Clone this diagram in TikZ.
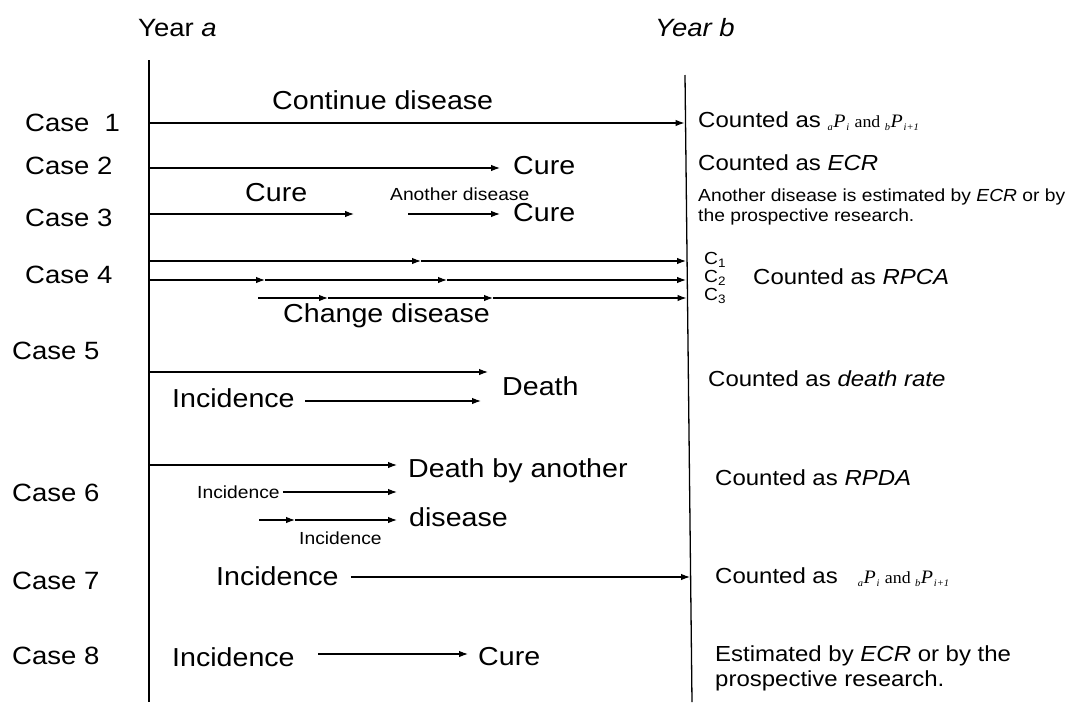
\documentclass[tikz,border=0pt]{standalone}
\usepackage{fontspec}
\setmainfont{Liberation Sans}[FakeStretch=1.1]
\newfontfamily\tms{Liberation Serif}[FakeStretch=1.05]
\usetikzlibrary{arrows.meta}
\newcommand\subP[2]{{\tms\raisebox{-3pt}{\fontsize{10}{11}\selectfont\itshape #1}\kern0.5pt{\fontsize{19}{20}\selectfont\itshape P}\kern0.8pt\raisebox{-3pt}{\fontsize{10}{11}\selectfont\itshape #2}}}
\newcommand\pformula{\subP{a}{i}\kern1pt{\tms\fontsize{17}{18}\selectfont\ and }\subP{b}{i+1}}
\begin{document}
\begin{tikzpicture}[x=1pt,y=-1pt,
  big/.style={font=\fontsize{26}{30}\selectfont, inner sep=0pt, anchor=west},
  casel/.style={font=\fontsize{25}{29}\selectfont, inner sep=0pt, anchor=west},
  rtext/.style={font=\fontsize{21.8}{25}\selectfont, inner sep=0pt, anchor=west},
  rsmall/.style={font=\fontsize{17.5}{20}\selectfont, inner sep=0pt, anchor=west, align=left},
  small/.style={font=\fontsize{17.5}{20}\selectfont, inner sep=0pt, anchor=west},
  arr/.style={-{Latex[length=9pt,width=6.5pt]}, line width=1.1pt},
  vline/.style={line width=1.3pt}
]
\useasboundingbox (0,0) rectangle (1075,702);

% time lines
\coordinate (Ltop) at (149,60);
\coordinate (Lbot) at (149,702);
\coordinate (Rtop) at (685,75);
\coordinate (Rbot) at (692,702);
\draw[vline] (Ltop) -- (Lbot);
\draw[vline] (Rtop) -- (Rbot);

% headings
\node[casel] (ya) at (138,28) {Year \textit{a}};
\node[casel] (yb) at (655,28) {\textit{Year b}};

% case labels
\node[casel] (k1) at (25,123) {Case\ \ 1};
\node[casel] (k2) at (25,166) {Case 2};
\node[casel] (k3) at (25,218) {Case 3};
\node[casel] (k4) at (25,275) {Case 4};
\node[casel] (k5) at (12,351) {Case 5};
\node[casel] (k6) at (12,493) {Case 6};
\node[casel] (k7) at (12,581) {Case 7};
\node[casel] (k8) at (12,656) {Case 8};

% Case 1
\coordinate (c1s) at (149,123);
\coordinate (c1e) at (684.5,123);
\draw[arr] (c1s) -- (c1e);
\node[big] (cont) at (272,100) {Continue disease};
\node[rtext] (r1) at (698,121) {Counted as \pformula};

% Case 2
\coordinate (c2s) at (149,168);
\node[big] (cure2) at (513,166) {Cure};
\coordinate (c2e) at (500,168);
\draw[arr] (c2s) -- (c2e);
\node[rtext] (r2) at (698,163) {Counted as \textit{ECR}};

% Case 3
\coordinate (c3s) at (149,214);
\coordinate (c3m) at (354,214);
\coordinate (c3a) at (408,214);
\coordinate (c3e) at (500,214);
\draw[arr] (c3s) -- (c3m);
\draw[arr] (c3a) -- (c3e);
\node[big] (cure3a) at (245,193) {Cure};
\node[small] (anoth) at (390,194) {Another disease};
\node[big] (cure3) at (513,213) {Cure};
\node[rsmall] (r3) at (698,207) {Another disease is estimated by \textit{ECR} or by\\the prospective research.};

% Case 4
\coordinate (c4as) at (149,261);
\coordinate (c4am) at (421,261);
\coordinate (c4ae) at (686,261);
\draw[arr] (c4as) -- (c4am);
\draw[arr] (c4am) -- (c4ae);
\coordinate (c4bs) at (149,280);
\coordinate (c4bm) at (265,280);
\coordinate (c4bn) at (447,280);
\coordinate (c4be) at (686,280);
\draw[arr] (c4bs) -- (c4bm);
\draw[arr] (c4bm) -- (c4bn);
\draw[arr] (c4bn) -- (c4be);
\coordinate (c4cs) at (258,298);
\coordinate (c4cm) at (328,298);
\coordinate (c4cn) at (493,298);
\coordinate (c4ce) at (686.5,298);
\draw[arr] (c4cs) -- (c4cm);
\draw[arr] (c4cm) -- (c4cn);
\draw[arr] (c4cn) -- (c4ce);
\node[big] (chg) at (283,316) {Change disease};
\node[small] (cc1) at (704,260) {C\textsubscript{1}};
\node[small] (cc2) at (704,278) {C\textsubscript{2}};
\node[small] (cc3) at (704,296) {C\textsubscript{3}};
\node[rtext] (r4) at (753,277) {Counted as \textit{RPCA}};

% Case 5
\coordinate (c5s) at (149,372);
\coordinate (c5e) at (488,372);
\draw[arr] (c5s) -- (c5e);
\node[big] (inc5) at (172,398) {Incidence};
\coordinate (c5b) at (305,401);
\coordinate (c5be) at (481,401);
\draw[arr] (c5b) -- (c5be);
\node[big] (death) at (502,386) {Death};
\node[rtext] (r5) at (708,379) {Counted as \textit{death rate}};

% Case 6
\coordinate (c6s) at (149,465);
\coordinate (c6e) at (397,465);
\draw[arr] (c6s) -- (c6e);
\node[small] (inc6a) at (197,492) {Incidence};
\coordinate (c6be) at (397,492);
\draw[arr] (inc6a.east) ++(3,0) coordinate (c6bs) -- (c6be);
\coordinate (c6cs) at (259,520);
\coordinate (c6cm) at (295,520);
\coordinate (c6ce) at (397,520);
\draw[arr] (c6cs) -- (c6cm);
\draw[arr] (c6cm) -- (c6ce);
\node[small] (inc6b) at (299,538) {Incidence};
\node[big] (dba) at (408,471) {Death by another};
\node[big] (dis6) at (409,517) {disease};
\node[rtext] (r6) at (715,478) {Counted as \textit{RPDA}};

% Case 7
\node[big] (inc7) at (216,576) {Incidence};
\coordinate (c7e) at (690,577);
\draw[arr] (inc7.east) ++(12,1) coordinate (c7s) -- (c7e);
\node[rtext] (r7) at (715,577) {Counted as \ \ \pformula};

% Case 8
\node[big] (inc8) at (172,657) {Incidence};
\node[big] (cure8) at (478,657) {Cure};
\coordinate (c8s) at (318,654);
\coordinate (c8e) at (468,654);
\draw[arr] (c8s) -- (c8e);
\node[rtext, align=left] (r8) at (715,668) {Estimated by \textit{ECR} or by the\\prospective research.};
\end{tikzpicture}
\end{document}
